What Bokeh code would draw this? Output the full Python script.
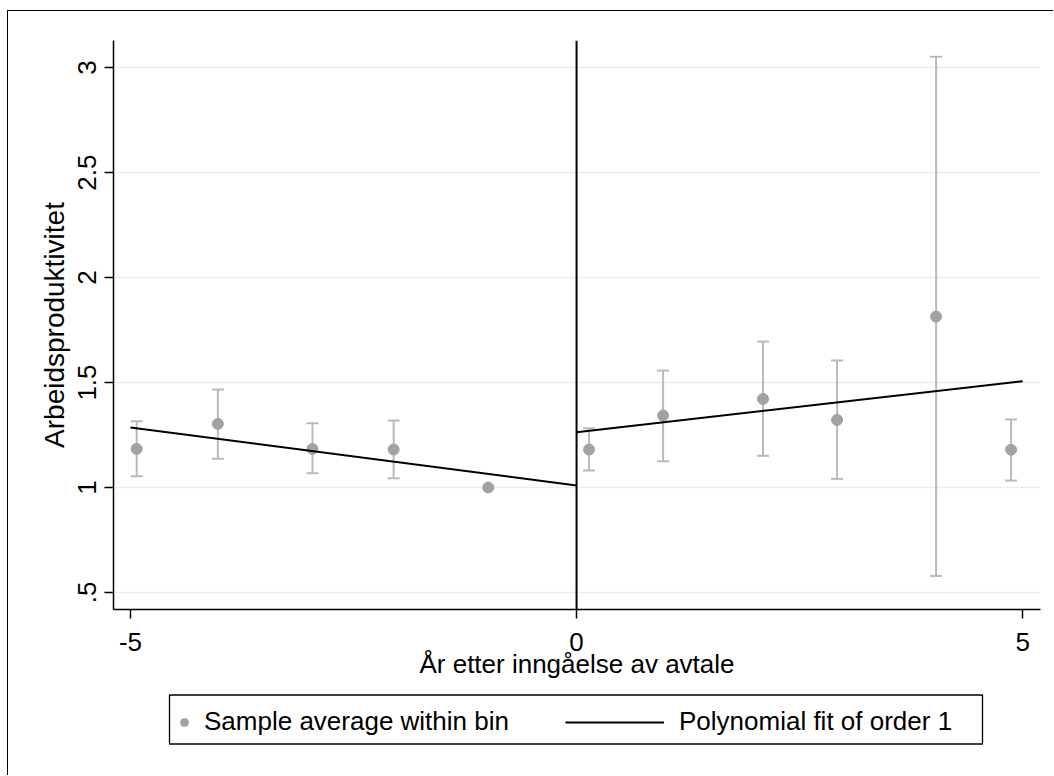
from bokeh.plotting import figure
from bokeh.layouts import column
from bokeh.models import (ColumnDataSource, FixedTicker, Span, Legend, LegendItem,
                          BoxAnnotation)
from bokeh.embed import file_html
from bokeh.resources import INLINE

nan = float("nan")

# ---- data ----
x_left = [-4.93, -4.02, -2.96, -2.05, -0.99]
y_left = [1.184, 1.303, 1.184, 1.181, 1.000]
lo_left = [1.054, 1.137, 1.068, 1.044, nan]
hi_left = [1.316, 1.467, 1.306, 1.319, nan]

x_right = [0.14, 0.97, 2.09, 2.92, 4.03, 4.87]
y_right = [1.181, 1.343, 1.422, 1.322, 1.814, 1.180]
lo_right = [1.081, 1.125, 1.151, 1.041, 0.578, 1.033]
hi_right = [1.282, 1.557, 1.695, 1.605, 3.052, 1.324]

fit_left_x = [-5.0, 0.0]
fit_left_y = [1.286, 1.010]
fit_right_x = [0.0, 5.0]
fit_right_y = [1.263, 1.506]

cutoff = 0.0
x_ticks = [-5, 0, 5]
x_tick_labels = ["-5", "0", "5"]
y_ticks = [0.5, 1.0, 1.5, 2.0, 2.5, 3.0]
y_tick_labels = [".5", "1", "1.5", "2", "2.5", "3"]

x_title = "År etter inngåelse av avtale"
y_title = "Arbeidsproduktivitet"
legend_labels = ["Sample average within bin", "Polynomial fit of order 1"]

# ---- styling / layout (page pixels) ----
FONT = "Liberation Sans"
FS = "26px"
DOT = "#a2a2a2"
BAR = "#bababa"
GRID = "#e8eff1"

OX, OY = 8, 11                 # canvas origin on the page (after margin + border)
SPLIT = 690                    # page y where the legend strip starts
FL, FR, FT, FB = 113, 1040, 40, 609   # frame edges on the page
W1, H1 = 1054 - OX, SPLIT - OY
W2, H2 = 1054 - OX, 776 - SPLIT

p = figure(width=W1, height=H1, output_backend="svg", toolbar_location=None,
           x_range=(-5.19, 5.20), y_range=(0.419, 3.129),
           min_border_left=FL - OX, min_border_right=1054 - FR,
           min_border_top=FT - OY, min_border_bottom=SPLIT - FB)
p.margin = (10, 0, 0, 7)
p.styles = {"border-left": "1px solid black", "border-top": "1px solid black"}
p.outline_line_color = None
p.background_fill_color = "white"
p.border_fill_color = "white"

for ax in (p.xaxis[0], p.yaxis[0]):
    ax.axis_line_color = "black"
    ax.axis_line_width = 1.5
    ax.major_tick_line_color = "black"
    ax.major_tick_line_width = 1.5
    ax.major_tick_out = 9
    ax.major_tick_in = 0
    ax.minor_tick_line_color = None
    ax.major_label_text_font = FONT
    ax.major_label_text_font_size = FS
    ax.major_label_text_color = "black"
    ax.axis_label_text_font = FONT
    ax.axis_label_text_font_size = FS
    ax.axis_label_text_font_style = "normal"
    ax.axis_label_text_color = "black"

p.xaxis.ticker = FixedTicker(ticks=x_ticks)
p.xaxis.major_label_overrides = {t: s for t, s in zip(x_ticks, x_tick_labels)}
p.xaxis.axis_label = x_title
p.xaxis.major_label_standoff = 14
p.xaxis.axis_label_standoff = -5

p.yaxis.ticker = FixedTicker(ticks=y_ticks)
p.yaxis.major_label_overrides = {t: s for t, s in zip(y_ticks, y_tick_labels)}
p.yaxis.major_label_orientation = "vertical"
p.yaxis.axis_label = y_title
p.yaxis.axis_label_text_font_size = "28px"
p.yaxis.major_label_standoff = 8
p.yaxis.axis_label_standoff = 6

p.xgrid.grid_line_color = None
p.ygrid.grid_line_color = GRID
p.ygrid.grid_line_width = 1.5
p.ygrid.ticker = FixedTicker(ticks=y_ticks)

# error bars
ci = ColumnDataSource(dict(x=x_left + x_right, lo=lo_left + lo_right, hi=hi_left + hi_right))
p.segment(x0="x", y0="lo", x1="x", y1="hi", source=ci, line_color=BAR, line_width=2)
p.scatter(x="x", y="lo", source=ci, marker="dash", size=12, line_color=BAR, line_width=2)
p.scatter(x="x", y="hi", source=ci, marker="dash", size=12, line_color=BAR, line_width=2)

# bin averages
pts = ColumnDataSource(dict(x=x_left + x_right, y=y_left + y_right))
p.scatter(x="x", y="y", source=pts, size=11, fill_color=DOT, line_color=DOT)

# linear fits
p.line(fit_left_x, fit_left_y, line_color="black", line_width=2)
p.line(fit_right_x, fit_right_y, line_color="black", line_width=2)

# cutoff line
p.add_layout(Span(location=cutoff, dimension="height", line_color="black", line_width=2))

# ---- legend strip: a second canvas under the plot, frame aligned with the plot,
#      its ranges set to page pixels so the key box can be placed by pixel ----
q = figure(width=W2, height=H2, output_backend="svg", toolbar_location=None,
           x_range=(FL, FR), y_range=(776, SPLIT),
           x_axis_location=None, y_axis_location=None,
           min_border_left=FL - OX, min_border_right=1054 - FR,
           min_border_top=0, min_border_bottom=0)
q.margin = (0, 0, 0, 7)
q.styles = {"border-left": "1px solid black"}
q.outline_line_color = None
q.xgrid.grid_line_color = None
q.ygrid.grid_line_color = None
q.background_fill_color = "white"
q.border_fill_color = "white"

# key proxies: the same data, which falls outside this strip's pixel ranges
key_dot = q.scatter(x="x", y="y", source=pts, size=11, fill_color=DOT, line_color=DOT)
key_line = q.line(fit_left_x, fit_left_y, line_color="black", line_width=2)

q.add_layout(BoxAnnotation(left=169, right=982, top=695.5, bottom=744.5,
                           fill_alpha=0, line_color="black", line_alpha=1,
                           line_width=1.3))

legA = Legend(items=[LegendItem(label=legend_labels[0], renderers=[key_dot])],
              location=(174 - FL, 776 - 738), orientation="horizontal",
              glyph_width=20, glyph_height=20, label_standoff=10,
              padding=0, margin=0, spacing=0,
              border_line_color=None, background_fill_alpha=0,
              label_text_font=FONT, label_text_font_size=FS, label_text_color="black")
legB = Legend(items=[LegendItem(label=legend_labels[1], renderers=[key_line])],
              location=(565 - FL, 776 - 738), orientation="horizontal",
              glyph_width=99, glyph_height=20, label_standoff=15,
              padding=0, margin=0, spacing=0,
              border_line_color=None, background_fill_alpha=0,
              label_text_font=FONT, label_text_font_size=FS, label_text_color="black")
q.add_layout(legA, "center")
q.add_layout(legB, "center")

layout = column(p, q, spacing=0)
open("out.html", "w").write(file_html(layout, INLINE))
